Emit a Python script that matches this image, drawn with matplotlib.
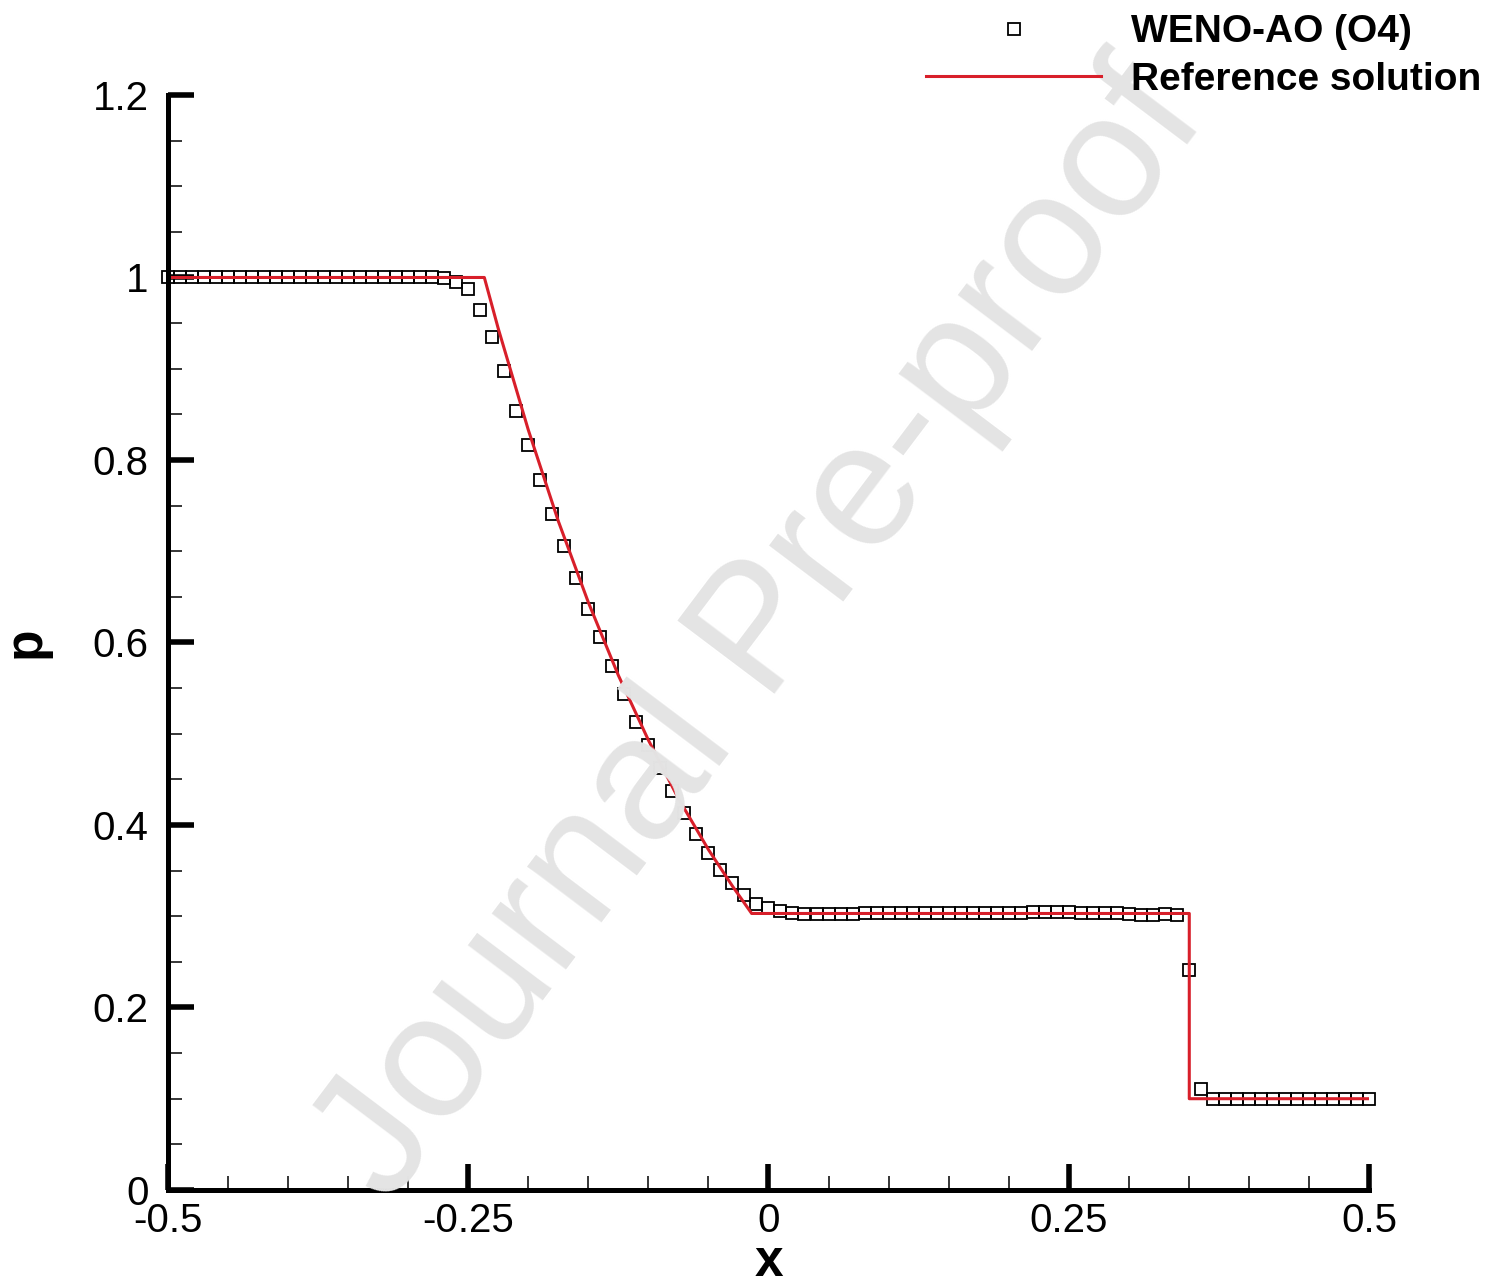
import numpy as np
import matplotlib
matplotlib.use('Agg')
import matplotlib.pyplot as plt
from matplotlib.ticker import MultipleLocator, FuncFormatter

plt.rcParams['font.family'] = ['Liberation Sans', 'DejaVu Sans']

# numerical solution (WENO-AO, O4), 101 points on [-0.5, 0.5]
x_num = np.linspace(-0.5, 0.5, 101)
p_num = ([1.0] * 23 +
         [0.999, 0.995, 0.987, 0.964, 0.935, 0.897, 0.854, 0.816, 0.778, 0.741,
          0.706, 0.671, 0.637, 0.606, 0.574, 0.544, 0.513, 0.488, 0.462, 0.437,
          0.413, 0.390, 0.369, 0.351, 0.336, 0.323, 0.313, 0.309, 0.306, 0.303,
          0.302, 0.302, 0.302, 0.302, 0.3025, 0.303] +
         [0.3033] * 11 +
         [0.3033, 0.3033, 0.3044, 0.3051, 0.3047, 0.3051, 0.3040, 0.3036, 0.3040,
          0.3033, 0.3022, 0.3014, 0.3011, 0.3022, 0.3014] +
         [0.241, 0.111] +
         [0.1] * 14)

# reference solution
ref_x = [-0.5, -0.2366, -0.225, -0.2, -0.175, -0.15, -0.125, -0.1, -0.075,
         -0.05, -0.03, -0.014, 0.3504, 0.3504, 0.5]
ref_p = [1.0, 1.0, 0.944, 0.833, 0.733, 0.644, 0.564, 0.493, 0.429,
         0.373, 0.333, 0.303, 0.303, 0.1, 0.1]

fig = plt.figure(figsize=(15.04, 12.87), dpi=100)
ax = fig.add_axes([0.1117, 0.0754, 0.7985, 0.8508])

fig.text(0.507, 0.507, 'Journal Pre-proof', fontsize=127, color='#e4e4e4',
         rotation=53, ha='center', va='center', rotation_mode='anchor', zorder=0)
ax.set_facecolor('none')

ax.plot(x_num, p_num, 's', ms=8, mfc='none', mec='black', mew=1.3,
        clip_on=False, label='WENO-AO (O4)')
ax.plot(ref_x, ref_p, '-', color='#d81f2a', lw=2.2, label='Reference solution')

ax.set_xlim(-0.5, 0.5)
ax.set_ylim(0, 1.2)
ax.xaxis.set_major_locator(MultipleLocator(0.25))
ax.xaxis.set_minor_locator(MultipleLocator(0.05))
ax.yaxis.set_major_locator(MultipleLocator(0.2))
ax.yaxis.set_minor_locator(MultipleLocator(0.05))
fmt = FuncFormatter(lambda v, pos: '%g' % round(v, 3))
ax.xaxis.set_major_formatter(fmt)
ax.yaxis.set_major_formatter(fmt)

for s in ['top', 'right']:
    ax.spines[s].set_visible(False)
for s in ['left', 'bottom']:
    ax.spines[s].set_linewidth(3.6)

ax.tick_params(which='major', direction='in', length=19, width=4, labelsize=29)
ax.tick_params(which='minor', direction='in', length=10, width=1.1)
ax.tick_params(axis='y', which='major', pad=14)
ax.tick_params(axis='x', which='major', pad=9)

ax.set_xlabel('x', fontsize=37, fontweight='bold', labelpad=-2)
ax.set_ylabel('p', fontsize=37, fontweight='bold', labelpad=30)

fig.legend(loc='upper left', bbox_to_anchor=(0.6157, 0.989), frameon=False,
           prop={'weight': 'bold', 'size': 28}, handlelength=4.5,
           handletextpad=0.77, labelspacing=0.3, borderpad=0, borderaxespad=0,
           numpoints=1)

fig.savefig('out.png', dpi=100)
